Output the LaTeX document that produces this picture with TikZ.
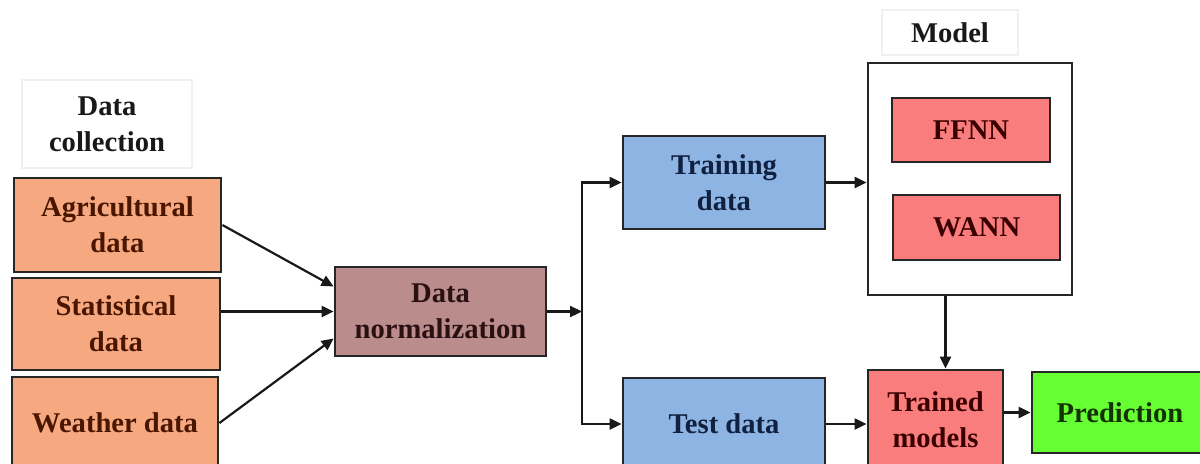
\documentclass[tikz,border=0pt]{standalone}
\usepackage{fontspec}
\setmainfont{Liberation Serif}
\usetikzlibrary{arrows.meta,calc}
\definecolor{corange}{RGB}{246,168,128}
\definecolor{crose}{RGB}{186,140,140}
\definecolor{cblue}{RGB}{141,180,226}
\definecolor{cred}{RGB}{250,125,125}
\definecolor{cgreen}{RGB}{102,255,51}
\definecolor{torange}{RGB}{74,22,0}
\definecolor{trose}{RGB}{42,16,16}
\definecolor{tblue}{RGB}{16,32,64}
\definecolor{tred}{RGB}{58,0,0}
\definecolor{tgreen}{RGB}{20,50,0}
\begin{document}
\begin{tikzpicture}[x=0.5pt,y=-0.5pt,
  box/.style={draw=black!85, line width=1.4pt, inner sep=0pt, align=center,
    font=\fontsize{14.3}{17.8}\selectfont\bfseries},
  arr/.style={-{Triangle[length=6pt,width=5.5pt]}, line width=1.1pt, draw=black!90},
  lbl/.style={draw=black!6, line width=0.8pt, inner sep=0pt, align=center,
    text=black!90, font=\fontsize{14.3}{17.8}\selectfont\bfseries}]
\useasboundingbox (0,0) rectangle (1200,463);
\clip (0,0) rectangle (1200,463);

% labels
\node[lbl, minimum width=85pt, minimum height=44pt] (lcol) at (107,124) {Data\\collection};
\node[lbl, minimum width=68pt, minimum height=22.5pt] (lmod) at (950,32.5) {Model};

% data sources
\node[box, fill=corange, text=torange, minimum width=103.5pt, minimum height=47pt] (agri) at (117.5,225) {Agricultural\\data};
\node[box, fill=corange, text=torange, minimum width=104pt, minimum height=46pt] (stat) at (116,324) {Statistical\\data};
\node[box, fill=corange, text=torange, minimum width=103pt, minimum height=46pt] (weat) at (115,423) {Weather data};

% normalization
\node[box, fill=crose, text=trose, minimum width=105.5pt, minimum height=44.5pt] (norm) at (440.5,311.5) {Data\\normalization};

% split
\node[box, fill=cblue, text=tblue, minimum width=101pt, minimum height=46.5pt] (train) at (724,182.5) {Training\\data};
\node[box, fill=cblue, text=tblue, minimum width=101pt, minimum height=46pt] (test) at (724,424) {Test data};

% model
\node[box, fill=white, minimum width=102pt, minimum height=116pt] (model) at (970,179) {};
\node[box, fill=cred, text=tred, minimum width=79pt, minimum height=32pt] (ffnn) at (971,130) {FFNN};
\node[box, fill=cred, text=tred, minimum width=83.5pt, minimum height=32.5pt] (wann) at (976.5,227.5) {WANN};

\node[box, fill=cred, text=tred, minimum width=67.5pt, minimum height=50pt] (trained) at (935.5,420) {Trained\\models};
\node[box, fill=cgreen, text=tgreen, minimum width=88pt, minimum height=40.5pt] (pred) at (1120,412.5) {Prediction};

% connectors
\draw[arr] (agri.east) -- ($(norm.west)+(0,-25)$);
\draw[arr] (stat.east |- norm.west) -- (norm.west);
\draw[arr] (weat.east) -- ($(norm.west)+(0,27)$);

\coordinate (j) at (582,311.5);
\draw[arr] (norm.east) -- (j);
\draw[arr] (j) |- (train.west);
\draw[arr] (j) |- (test.west);

\draw[arr] (train.east) -- (train.east -| model.west);
\coordinate (mt) at ($(trained.north)+(10,0)$);
\draw[arr] (mt |- model.south) -- (mt);
\draw[arr] (test.east) -- (test.east -| trained.west);
\draw[arr] (trained.east |- pred.west) -- (pred.west);
\end{tikzpicture}
\end{document}
